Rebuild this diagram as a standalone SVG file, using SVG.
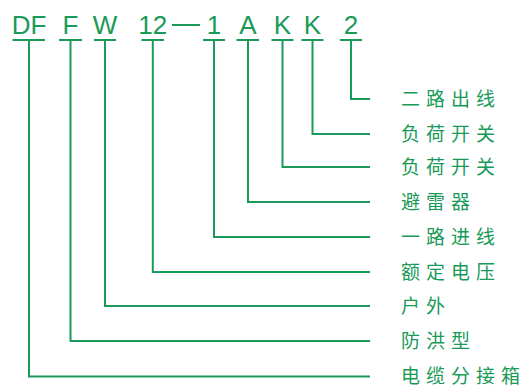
<svg xmlns="http://www.w3.org/2000/svg" width="522" height="390" viewBox="0 0 522 390">
<style>
.c{font-family:"Liberation Sans",Arial,sans-serif;font-size:26px;fill:#1a9a58;text-anchor:middle}
.l{font-family:"Noto Sans CJK SC","Noto Sans",sans-serif;font-size:19px;fill:#1a9a58}
.s{stroke:#1a9a58;stroke-width:2;fill:none}
</style>
<rect width="522" height="390" fill="#fff"/>
<g id="code">
<text class="c" x="29" y="34">DF</text>
<text class="c" x="70.5" y="34">F</text>
<text class="c" x="105" y="34">W</text>
<text class="c" x="152.8" y="34">12</text>
<line class="s" x1="172" y1="25" x2="200" y2="25" stroke-width="2.5"/>
<text class="c" x="214" y="34">1</text>
<text class="c" x="248" y="34">A</text>
<text class="c" x="282.5" y="34">K</text>
<text class="c" x="312.5" y="34">K</text>
<text class="c" x="351" y="34">2</text>
</g>
<g id="underlines" class="s">
<line x1="12.5" y1="40" x2="45" y2="40"/>
<line x1="59" y1="40" x2="82" y2="40"/>
<line x1="94" y1="40" x2="116" y2="40"/>
<line x1="141.5" y1="40" x2="164" y2="40"/>
<line x1="203" y1="40" x2="225" y2="40"/>
<line x1="236.5" y1="40" x2="259" y2="40"/>
<line x1="271.5" y1="40" x2="293.5" y2="40"/>
<line x1="301.5" y1="40" x2="323.5" y2="40"/>
<line x1="340" y1="40" x2="362" y2="40"/>
</g>
<g id="connectors" class="s">
<polyline points="351,40 351,99 370,99"/>
<polyline points="312.5,40 312.5,134 370,134"/>
<polyline points="282.5,40 282.5,167 370,167"/>
<polyline points="248,40 248,202 370,202"/>
<polyline points="214,40 214,237 370,237"/>
<polyline points="152.8,40 152.8,272 370,272"/>
<polyline points="105,40 105,306 370,306"/>
<polyline points="70.5,40 70.5,341 370,341"/>
<polyline points="29,40 29,376.5 370,376.5"/>
</g>
<g id="labels">
<text class="l" x="401 426 451 476" y="106">二路出线</text>
<text class="l" x="401 426 451 476" y="141">负荷开关</text>
<text class="l" x="401 426 451 476" y="174">负荷开关</text>
<text class="l" x="401 426 451" y="209">避雷器</text>
<text class="l" x="401 426 451 476" y="244">一路进线</text>
<text class="l" x="401 426 451 476" y="279">额定电压</text>
<text class="l" x="401 426" y="313">户外</text>
<text class="l" x="401 426 451" y="348">防洪型</text>
<text class="l" x="401 426 451 476 501" y="383">电缆分接箱</text>
</g>
</svg>
